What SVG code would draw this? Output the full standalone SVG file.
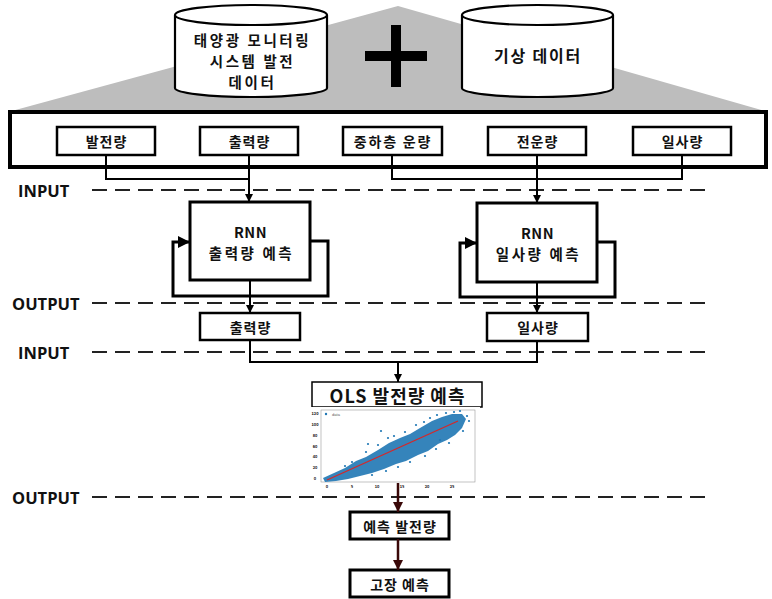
<svg xmlns="http://www.w3.org/2000/svg" width="772" height="599" viewBox="0 0 772 599">
<style>
text{font-family:"Noto Sans CJK KR","Open Sans",sans-serif;font-weight:bold;fill:#111;text-anchor:middle;dominant-baseline:central}
.box{fill:#fff;stroke:#000;stroke-width:2.5}
.rnn{fill:#fff;stroke:#000;stroke-width:3}
.cyl{fill:#fff;stroke:#000;stroke-width:2.2}
.lbl{font-size:14px;letter-spacing:1px}
.big{font-size:16px;letter-spacing:1.8px}
.ml{font-size:14.5px;letter-spacing:2.6px}
.lat{letter-spacing:0.5px}
.side{font-family:"Open Sans","Noto Sans CJK KR",sans-serif;font-size:16.5px;text-anchor:start}
.dash{stroke:#222;stroke-width:2;stroke-dasharray:15 8;fill:none}
.con{fill:none;stroke:#000;stroke-width:2}
.loop{fill:none;stroke:#000;stroke-width:3}
.red{fill:none;stroke:#3a0808;stroke-width:2.5}
.tick{font-family:"Liberation Sans",sans-serif;font-size:4px;font-weight:normal;fill:#555;letter-spacing:0}
.dot{fill:#1f77b4}
</style>
<defs>
<marker id="ah" viewBox="0 0 10 10" refX="10" refY="5" markerWidth="4" markerHeight="4" orient="auto" markerUnits="strokeWidth"><path d="M0,0 L10,5 L0,10 Z" fill="#000"/></marker>
<marker id="ahr" viewBox="0 0 10 10" refX="10" refY="5" markerWidth="4" markerHeight="4" orient="auto" markerUnits="strokeWidth"><path d="M0,0 L10,5 L0,10 Z" fill="#3a0808"/></marker>
</defs>

<g id="header">
<polygon points="398,6 768,112 8,112" fill="#bdbdbd"/>
<rect x="365" y="51" width="62" height="10" fill="#000"/>
<rect x="391" y="25" width="10" height="62" fill="#000"/>
</g>

<g id="db-solar">
<path class="cyl" d="M175,15 V88 A76,9 0 0 0 327,88 V15 A76,10 0 0 0 175,15 Z"/>
<path class="cyl" fill="none" d="M175,15 A76,10 0 0 0 327,15"/>
<text class="ml"><tspan x="252.5" y="39">태양광 모니터링</tspan><tspan x="252.5" y="60">시스템 발전</tspan><tspan x="252.5" y="81">데이터</tspan></text>
</g>

<g id="db-weather">
<path class="cyl" d="M462,15 V88 A75.5,9 0 0 0 613,88 V15 A75.5,10 0 0 0 462,15 Z"/>
<path class="cyl" fill="none" d="M462,15 A75.5,10 0 0 0 613,15"/>
<text class="big" x="538" y="55">기상 데이터</text>
</g>

<g id="input-frame">
<rect x="10" y="112" width="756" height="55" fill="#fff" stroke="#000" stroke-width="4"/>
</g>

<g id="in-gen"><rect class="box" x="57" y="127" width="98" height="28"/><text class="lbl" x="106.5" y="141">발전량</text></g>
<g id="in-output"><rect class="box" x="200" y="127" width="98" height="28"/><text class="lbl" x="249.5" y="141">출력량</text></g>
<g id="in-cloud-low"><rect class="box" x="343" y="127" width="99" height="28"/><text class="lbl" x="393" y="141" style="letter-spacing:1.8px">중하층 운량</text></g>
<g id="in-cloud-total"><rect class="box" x="488" y="127" width="98" height="28"/><text class="lbl" x="537.5" y="141">전운량</text></g>
<g id="in-irr"><rect class="box" x="633" y="127" width="98" height="28"/><text class="lbl" x="682.5" y="141">일사량</text></g>

<g id="stage-labels">
<text class="side" x="18" y="190">INPUT</text>
<text class="side" x="12" y="303">OUTPUT</text>
<text class="side" x="18" y="352">INPUT</text>
<text class="side" x="12" y="497">OUTPUT</text>
<line class="dash" x1="92" y1="190" x2="708" y2="190"/>
<line class="dash" x1="92" y1="303" x2="708" y2="303"/>
<line class="dash" x1="92" y1="352" x2="708" y2="352"/>
<line class="dash" x1="92" y1="497" x2="708" y2="497"/>
</g>

<g id="rnn-output"><rect class="rnn" x="190" y="202" width="120" height="78"/><text class="ml"><tspan class="lat" x="250.5" y="231">RNN</tspan><tspan x="251.5" y="252">출력량 예측</tspan></text></g>
<g id="rnn-irr"><rect class="rnn" x="477" y="203" width="120" height="79"/><text class="ml"><tspan class="lat" x="537.5" y="232">RNN</tspan><tspan x="538.5" y="253">일사량 예측</tspan></text></g>

<g id="pred-output"><rect class="box" x="200" y="313" width="100" height="27"/><text class="lbl" x="250.5" y="326.5">출력량</text></g>
<g id="pred-irr"><rect class="box" x="487" y="313" width="101" height="28"/><text class="lbl" x="538" y="327">일사량</text></g>

<g id="ols">
<rect x="312" y="382" width="170" height="25" fill="#fff" stroke="#000" stroke-width="1.5"/>
<text x="397.5" y="394.5" font-size="18px" style="letter-spacing:1px">OLS 발전량 예측</text>
</g>

<g id="scatter">
<rect x="310" y="407" width="170" height="80" fill="#fff"/>
<rect x="321" y="410" width="154" height="72" fill="#fff" stroke="#999" stroke-width="0.6"/>
<g class="tick">
<text x="315" y="413">120</text><text x="315" y="423.5">100</text><text x="315" y="434.5">80</text><text x="315" y="445.5">60</text><text x="315" y="456">40</text><text x="315" y="467">20</text><text x="315" y="478">0</text>
<text x="327" y="485.5">0</text><text x="352" y="485.5">5</text><text x="377" y="485.5">10</text><text x="402" y="485.5">15</text><text x="427" y="485.5">20</text><text x="452" y="485.5">25</text>
</g>
<circle class="dot" cx="326" cy="414" r="1.2"/>
<text class="tick" x="336" y="414">data</text>
<polygon class="dot" opacity="0.9" points="323,478 334,473 345,468 356,461 366,457 378,450 389,443 400,438 410,434 420,428 432,421 442,417 452,414 462,414 466,419 462,428 455,435 447,440 438,444 428,451 418,455 406,461 396,464 384,469 372,473 360,476 348,479 336,481 325,482"/>
<g class="dot">
<circle cx="352" cy="462" r="1.1"/><circle cx="366" cy="452" r="1.1"/><circle cx="378" cy="445" r="1.1"/><circle cx="388" cy="438" r="1.1"/><circle cx="394" cy="436" r="1.1"/><circle cx="381" cy="431" r="1.1"/><circle cx="405" cy="432" r="1.1"/><circle cx="416" cy="425" r="1.1"/><circle cx="424" cy="422" r="1.1"/><circle cx="430" cy="418" r="1.1"/><circle cx="437" cy="415" r="1.1"/><circle cx="446" cy="413" r="1.1"/><circle cx="454" cy="412" r="1.1"/><circle cx="460" cy="411" r="1.1"/><circle cx="467" cy="416" r="1.1"/><circle cx="469" cy="421" r="1.1"/><circle cx="463" cy="431" r="1.1"/><circle cx="449" cy="443" r="1.1"/><circle cx="436" cy="449" r="1.1"/><circle cx="425" cy="456" r="1.1"/><circle cx="410" cy="462" r="1.1"/><circle cx="398" cy="467" r="1.1"/><circle cx="386" cy="471" r="1.1"/><circle cx="372" cy="475" r="1.1"/><circle cx="345" cy="466" r="1.1"/><circle cx="440" cy="440" r="1.1"/><circle cx="368" cy="444" r="1.1"/>
</g>
<line x1="327" y1="480" x2="458" y2="421" stroke="#d62728" stroke-width="1.3"/>
</g>

<g id="pred-gen"><rect x="350" y="512" width="99" height="27" fill="#fff" stroke="#000" stroke-width="3"/><text class="lbl" x="400" y="525.5">예측 발전량</text></g>
<g id="fault"><rect x="350" y="570" width="99" height="27" fill="#fff" stroke="#000" stroke-width="3"/><text class="lbl" x="400" y="583.5">고장 예측</text></g>

<g id="connectors">
<path class="con" d="M106,155 V179 H249"/>
<path class="con" d="M249,155 V202" marker-end="url(#ah)"/>
<path class="con" d="M392,155 V179 H682 V155"/>
<path class="con" d="M537,155 V203" marker-end="url(#ah)"/>
<path class="loop" d="M310,241 H328 V296 H173 V242 H190" marker-end="url(#ah)"/>
<path class="loop" d="M597,242 H615 V297 H460 V243 H477" marker-end="url(#ah)"/>
<path class="con" d="M250,280 V313" marker-end="url(#ah)"/>
<path class="con" d="M537,282 V313" marker-end="url(#ah)"/>
<path class="con" d="M250,340 V362 H398 V382" marker-end="url(#ah)"/>
<path class="con" d="M537,341 V362 H398"/>
<path class="red" d="M398,483 V512" marker-end="url(#ahr)"/>
<path class="red" d="M398,539 V570" marker-end="url(#ahr)"/>
</g>
</svg>
